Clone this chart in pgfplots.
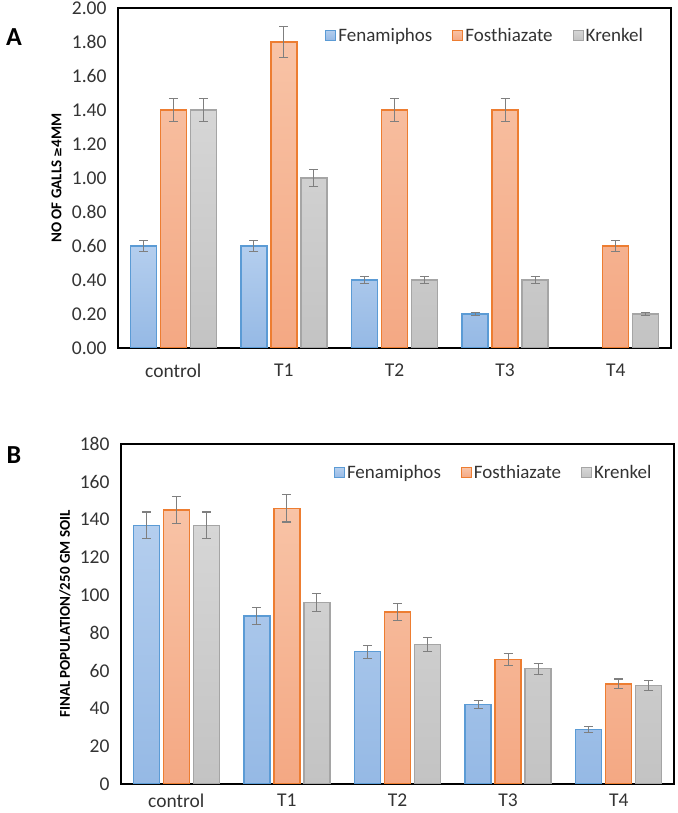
\documentclass[border=0pt]{standalone}
\usepackage{pgfplots}
\pgfplotsset{compat=1.18}
\usepackage{fontspec}
\setmainfont{Carlito}
\definecolor{bblue}{HTML}{5B9BD5}
\definecolor{bbluet}{HTML}{B4CEEE}
\definecolor{bblueb}{HTML}{95B9E5}
\definecolor{borange}{HTML}{ED7D31}
\definecolor{boranget}{HTML}{F8C3A6}
\definecolor{borangeb}{HTML}{F4A883}
\definecolor{bgray}{HTML}{A5A5A5}
\definecolor{bgrayt}{HTML}{D6D6D6}
\definecolor{bgrayb}{HTML}{C3C3C3}
\definecolor{errgray}{HTML}{7F7F7F}
\pgfplotsset{
  common/.style={
    scale only axis,
    anchor=south west,
    width=553pt, height=340pt,
    ybar=4pt, bar width=26pt,
    xmin=-0.5, xmax=4.5,
    xtick={0,1,2,3,4},
    xticklabels={control,T1,T2,T3,T4},
    ymin=0,
    major tick length=0pt,
    axis line style={line width=1.3pt, black},
    tick label style={font=\fontsize{19.5}{22}\selectfont, text=black!80},
    yticklabel style={xshift=-8pt},
    /pgf/number format/assume math mode=true,
    legend columns=3,
    legend style={draw=none, fill=none, font=\fontsize{19}{22}\selectfont, text=black!80,
      /tikz/every even column/.append style={column sep=18pt}},
    legend image code/.code={\draw[##1, line width=1pt] (0pt,-5pt) rectangle (10pt,5pt);},
    error bars/y dir=both,
    error bars/y explicit,
    error bars/error bar style={color=errgray, line width=1.1pt},
    error bars/error mark options={rotate=90, mark size=4.5pt, color=errgray, line width=1.1pt},
  },
  sblue/.style={draw=bblue, line width=1.4pt, top color=bbluet, bottom color=bblueb},
  sorange/.style={draw=borange, line width=1.4pt, top color=boranget, bottom color=borangeb},
  sgray/.style={draw=bgray, line width=1.4pt, top color=bgrayt, bottom color=bgrayb},
}
\begin{document}
\begin{tikzpicture}[x=1pt,y=1pt]
\useasboundingbox (0,0) rectangle (677,813);
\node[font=\bfseries\fontsize{26}{28}\selectfont] at (14,776) {A};
\node[font=\bfseries\fontsize{26}{28}\selectfont] at (14,358) {B};
\begin{axis}[common, at={(118pt,465pt)},
  ymax=2,
  xticklabel style={yshift=-12pt},
  ytick={0,0.2,0.4,0.6,0.8,1.0,1.2,1.4,1.6,1.8,2.0},
  yticklabel style={/pgf/number format/.cd, fixed, fixed zerofill, precision=2},
  ylabel={\fontsize{15}{18}\selectfont\bfseries NO OF GALLS {\fontspec{DejaVu Sans}\fontsize{12}{14}\selectfont ≥}4MM},
  ylabel style={at={(axis description cs:-0.096,0.5)}},
  legend style={at={(0.664,0.92)}, anchor=center},
]
\addplot[sblue] coordinates {(0,0.6) +- (0,0.03) (1,0.6) +- (0,0.03) (2,0.4) +- (0,0.02) (3,0.2) +- (0,0.01)};
\addplot[sorange] coordinates {(0,1.4) +- (0,0.07) (1,1.8) +- (0,0.09) (2,1.4) +- (0,0.07) (3,1.4) +- (0,0.07) (4,0.6) +- (0,0.03)};
\addplot[sgray] coordinates {(0,1.4) +- (0,0.07) (1,1.0) +- (0,0.05) (2,0.4) +- (0,0.02) (3,0.4) +- (0,0.02) (4,0.2) +- (0,0.01)};
\legend{Fenamiphos,Fosthiazate,Krenkel}
\end{axis}
\begin{axis}[common, at={(121pt,29pt)},
  ymax=180,
  xticklabel style={yshift=-6pt},
  ytick={0,20,40,60,80,100,120,140,160,180},
  ylabel={\fontsize{15}{18}\selectfont\bfseries FINAL POPULATION/250 GM SOIL},
  ylabel style={at={(axis description cs:-0.085,0.5)}},
  legend style={at={(0.674,0.915)}, anchor=center},
]
\addplot[sblue] coordinates {(0,137) +- (0,7) (1,89) +- (0,4.5) (2,70) +- (0,3.5) (3,42) +- (0,2.1) (4,29) +- (0,1.5)};
\addplot[sorange] coordinates {(0,145) +- (0,7.2) (1,146) +- (0,7.3) (2,91) +- (0,4.5) (3,66) +- (0,3.3) (4,53) +- (0,2.6)};
\addplot[sgray] coordinates {(0,137) +- (0,7) (1,96) +- (0,4.8) (2,74) +- (0,3.7) (3,61) +- (0,3) (4,52) +- (0,2.6)};
\legend{Fenamiphos,Fosthiazate,Krenkel}
\end{axis}
\end{tikzpicture}
\end{document}
